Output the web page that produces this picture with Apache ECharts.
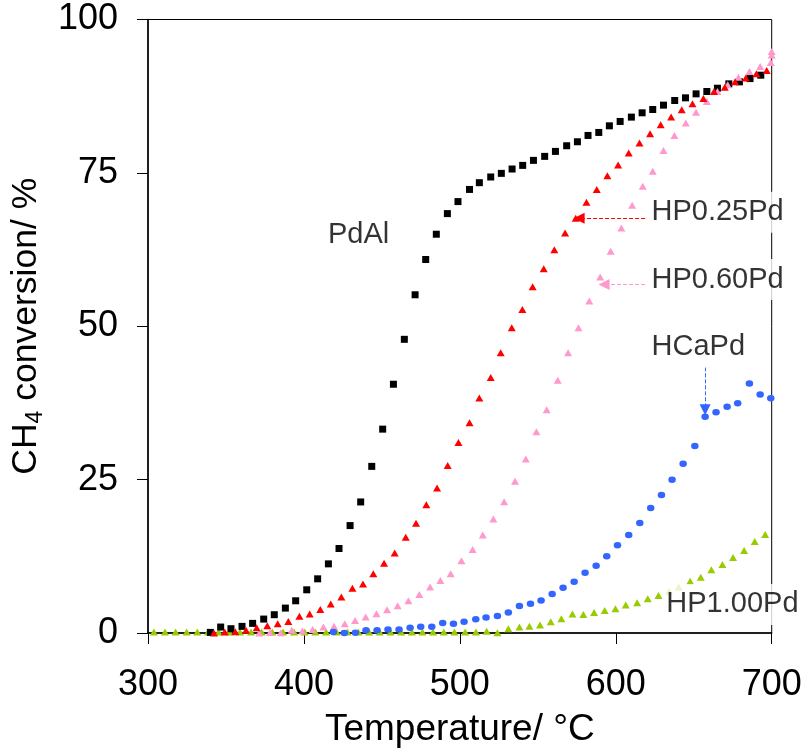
<!DOCTYPE html>
<html>
<head>
<meta charset="utf-8">
<script src="https://cdn.jsdelivr.net/npm/echarts@6/dist/echarts.min.js"></script>
<style>
  html, body { margin: 0; padding: 0; background: #fff; }
  #chart { width: 810px; height: 753px; }
</style>
</head>
<body>
<div id="chart"></div>
<script>
// Light-off curves: CH4 conversion (%) against temperature (°C)
const xTicks = [300, 400, 500, 600, 700];
const yTicks = [0, 25, 50, 75, 100];

const pdAlTemp = [340.0, 346.6, 353.2, 360.3, 367.1, 374.2, 381.0, 388.1, 394.7, 401.8, 408.8, 415.7, 422.5, 429.6, 436.4, 443.5, 450.5, 457.4, 464.4, 471.3, 478.1, 484.9, 492.0, 498.8, 506.2, 512.5, 519.8, 526.6, 533.5, 540.3, 547.2, 554.4, 561.3, 568.5, 575.4, 582.2, 589.1, 595.9, 602.8, 610.0, 616.9, 623.7, 630.6, 637.8, 644.7, 651.5, 658.4, 665.2, 672.5, 679.3, 686.1, 693.0];
const pdAlConv = [0.1, 0.97, 0.7, 1.08, 1.57, 2.27, 2.98, 4.06, 5.25, 7.04, 8.83, 11.27, 13.77, 17.51, 21.36, 27.16, 33.23, 40.55, 47.87, 55.13, 60.88, 65.0, 68.36, 70.32, 72.3, 73.4, 74.33, 74.92, 75.63, 76.22, 77.04, 77.69, 78.5, 79.42, 80.07, 81.1, 81.59, 82.67, 83.38, 84.09, 84.79, 85.33, 86.04, 86.8, 87.23, 87.88, 88.26, 88.8, 89.51, 89.84, 90.37, 90.92];

const hp025Temp = [342.3, 349.2, 356.0, 362.9, 369.7, 376.5, 383.2, 390.0, 397.1, 403.7, 410.5, 417.2, 424.0, 431.1, 437.9, 444.5, 451.4, 458.2, 465.3, 471.9, 478.5, 485.4, 492.2, 499.1, 506.2, 512.5, 519.8, 526.2, 533.3, 540.1, 546.7, 553.8, 560.6, 567.5, 574.3, 581.2, 587.8, 594.6, 601.5, 608.3, 615.2, 622.0, 628.8, 635.5, 642.3, 649.2, 656.2, 663.0, 669.9, 676.5, 683.4, 690.2, 696.8];
const hp025Conv = [0, 0.16, 0.21, 0.43, 0.86, 1.19, 1.51, 1.89, 2.71, 3.09, 3.84, 4.71, 5.85, 7.31, 7.97, 9.65, 11.38, 13.06, 15.61, 17.89, 20.92, 23.63, 27.32, 31.06, 34.26, 38.3, 41.63, 45.7, 49.77, 52.75, 56.44, 59.37, 62.48, 65.22, 67.6, 70.2, 72.27, 74.55, 76.28, 78.23, 79.86, 81.38, 82.85, 84.09, 85.29, 86.26, 87.12, 88.26, 88.97, 89.84, 90.48, 91.14, 91.68];

const hp060Temp = [371.4, 378.2, 385.1, 392.2, 399.0, 405.6, 412.5, 419.3, 426.2, 432.8, 439.6, 446.5, 453.3, 460.1, 467.0, 474.0, 480.9, 487.5, 494.1, 501.0, 508.2, 514.7, 521.5, 528.4, 535.4, 542.3, 549.1, 555.7, 562.8, 569.4, 576.1, 583.0, 590.0, 596.7, 603.6, 610.5, 617.3, 623.7, 630.6, 637.6, 644.9, 651.5, 658.4, 665.2, 671.8, 678.7, 685.7, 692.6, 699.4, 700.0, 700.0];
const hp060Conv = [0, 0.1, 0.05, 0.43, 0.32, 0.59, 0.97, 1.08, 1.51, 2.05, 2.6, 3.14, 3.79, 4.44, 5.25, 6.28, 7.48, 8.56, 9.65, 11.76, 13.63, 15.99, 18.59, 21.41, 24.72, 28.35, 32.8, 36.37, 41.2, 45.7, 49.77, 54.11, 58.01, 62.24, 66.03, 69.72, 72.81, 75.25, 78.66, 81.1, 83.11, 84.9, 86.63, 88.26, 89.35, 90.59, 91.51, 92.33, 92.98, 94.2, 94.8];

const hcaTemp = [418.9, 425.9, 433.0, 439.8, 446.9, 453.9, 461.0, 468.1, 474.9, 482.0, 489.0, 495.9, 502.7, 510.2, 516.8, 524.1, 531.1, 538.2, 545.3, 552.1, 559.2, 566.2, 573.3, 580.3, 587.4, 594.2, 601.1, 608.3, 615.4, 622.4, 629.3, 636.1, 643.2, 650.7, 657.3, 664.3, 671.4, 678.2, 685.7, 692.6, 699.4];
const hcaConv = [0.16, 0, 0.05, 0.43, 0.43, 0.59, 0.59, 0.86, 1.02, 1.02, 1.62, 1.51, 1.84, 2.25, 2.54, 2.76, 3.36, 4.39, 4.77, 5.31, 6.34, 7.37, 8.34, 9.81, 10.95, 12.52, 14.31, 15.99, 17.94, 20.38, 22.5, 24.99, 27.59, 30.47, 35.24, 36.0, 36.86, 37.46, 40.66, 38.87, 38.28];

const hp100Temp = [303.8, 310.9, 317.7, 324.8, 331.6, 338.5, 345.3, 352.2, 359.0, 366.1, 372.9, 379.7, 386.6, 393.7, 400.5, 407.3, 414.2, 421.0, 427.9, 434.9, 441.8, 448.6, 455.5, 462.3, 469.2, 476.0, 482.8, 489.7, 496.5, 503.4, 510.3, 517.2, 524.1, 531.1, 538.2, 544.6, 551.4, 558.3, 565.1, 572.2, 579.2, 586.1, 592.9, 599.8, 606.4, 613.7, 620.5, 627.4, 634.2, 640.4, 647.7, 654.5, 661.3, 668.4, 675.2, 682.3, 689.1, 695.8];
const hp100Conv = [0.15, 0.15, 0.15, 0.15, 0.15, 0.15, 0.15, 0.15, 0.15, 0.15, 0.15, 0.15, 0.15, 0.15, 0.15, 0.15, 0.15, 0.15, 0.15, 0.15, 0.15, 0.15, 0.15, 0.15, 0.15, 0.15, 0.15, 0.15, 0.15, 0.15, 0.16, 0.27, 0.05, 0.7, 0.97, 1.08, 1.3, 1.84, 2.33, 3.09, 3.03, 3.36, 3.68, 3.95, 4.55, 4.93, 5.58, 6.12, 6.8, 7.48, 8.45, 9.1, 10.3, 11.16, 12.3, 13.44, 14.91, 16.05];

// Sample labels: [name, temperature, conversion] anchor (left edge, vertical middle)
const labelNames = ['PdAl', 'HP0.25Pd', 'HP0.60Pd', 'HCaPd', 'HP1.00Pd'];
const labelTemp = [413.5, 621.0, 621.0, 621.0, 630.5];
const labelConv = [64.9, 68.6, 57.6, 46.6, 4.65];

// Dashed pointer arrows: from -> to
const arrowFrom = [[618.8, 67.6], [618.8, 56.8], [657.3, 43.3]];
const arrowTo = [[576.5, 67.6], [592.5, 56.8], [657.3, 36.4]];
const arrowColors = ['#ff0000', '#ff99cc', '#3366ff'];

const FONT = '"Liberation Sans", Arial, sans-serif';
const zip = (a, b) => a.map((v, i) => [v, b[i]]);

function scatter(name, temp, conv, symbol, size, color, z) {
  return {
    name, type: 'scatter', data: zip(temp, conv), symbol, symbolSize: size,
    itemStyle: { color, opacity: 1 }, z, silent: true
  };
}

const chart = echarts.init(document.getElementById('chart'), null, { renderer: 'canvas' });
chart.setOption({
  animation: false,
  backgroundColor: '#ffffff',
  grid: {
    left: 148, right: 38.3, top: 19.5, bottom: 118.7,
    show: true, borderColor: '#000', borderWidth: 1, backgroundColor: 'transparent'
  },
  xAxis: {
    type: 'value', min: xTicks[0], max: xTicks[xTicks.length - 1], interval: 100,
    name: 'Temperature/ °C', nameLocation: 'middle', nameGap: 78,
    nameTextStyle: { fontFamily: FONT, fontSize: 37, color: '#000' },
    axisLine: { show: true, onZero: false, lineStyle: { color: '#000', width: 1.5 } },
    axisTick: { show: true, inside: false, length: 11, lineStyle: { color: '#000', width: 1 } },
    axisLabel: { margin: 34, fontFamily: FONT, fontSize: 36, color: '#000' },
    splitLine: { show: false }
  },
  yAxis: {
    type: 'value', min: yTicks[0], max: yTicks[yTicks.length - 1], interval: 25,
    name: '{m|CH}{s|4}{m| conversion/ %}', nameLocation: 'middle', nameGap: 90,
    nameTextStyle: {
      fontFamily: FONT, color: '#000',
      rich: {
        m: { fontFamily: FONT, fontSize: 35.5, color: '#000', lineHeight: 42, verticalAlign: 'middle' },
        s: { fontFamily: FONT, fontSize: 23, color: '#000', lineHeight: 23, verticalAlign: 'bottom' }
      }
    },
    axisLine: { show: true, onZero: false, lineStyle: { color: '#000', width: 1.5 } },
    axisTick: { show: true, inside: false, length: 11, lineStyle: { color: '#000', width: 1 } },
    axisLabel: { margin: 30, fontFamily: FONT, fontSize: 36, color: '#000' },
    splitLine: { show: false }
  },
  series: [
    scatter('HP1.00Pd', hp100Temp, hp100Conv, 'triangle', [8, 7], '#99cc00', 2),
    scatter('PdAl', pdAlTemp, pdAlConv, 'rect', 7, '#000000', 3),
    scatter('HP0.60Pd', hp060Temp, hp060Conv, 'triangle', [8, 7], '#ff99cc', 3),
    scatter('HCaPd', hcaTemp, hcaConv, 'circle', [7.5, 6.5], '#3366ff', 4),
    scatter('HP0.25Pd', hp025Temp, hp025Conv, 'triangle', [8, 7], '#ff0000', 4),
    {
      name: 'pointers', type: 'lines', coordinateSystem: 'cartesian2d', z: 6, silent: true,
      symbol: ['none', 'triangle'], symbolSize: 11,
      data: arrowFrom.map((p, i) => ({
        coords: [p, arrowTo[i]],
        lineStyle: { color: arrowColors[i], width: 1, type: [4, 2], opacity: 1 },
        itemStyle: { color: arrowColors[i] }
      })),
      lineStyle: { width: 1, type: 'dashed' }
    },
    {
      name: 'labels', type: 'scatter', symbolSize: 0, z: 8, silent: true,
      data: labelNames.map((n, i) => ({ name: n, value: [labelTemp[i], labelConv[i]] })),
      label: {
        show: true, position: 'right', distance: 0, formatter: '{b}',
        fontFamily: FONT, fontSize: 29, color: '#000',
        backgroundColor: '#ffffff', padding: [6, 3, 6, 3]
      }
    }
  ]
});
</script>
</body>
</html>
